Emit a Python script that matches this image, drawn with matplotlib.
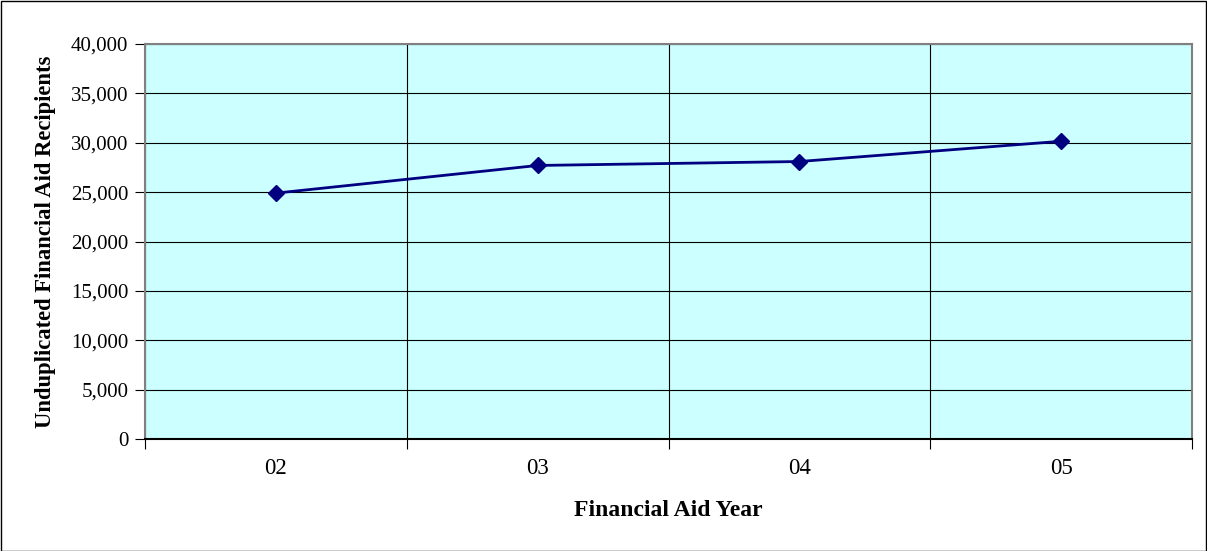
import matplotlib
matplotlib.use("Agg")
import matplotlib.pyplot as plt
from matplotlib.patches import Rectangle
from matplotlib.ticker import FuncFormatter, FixedLocator

categories = ["02", "03", "04", "05"]
recipients = [24900, 27700, 28100, 30150]

plt.rcParams['font.family'] = ['Liberation Serif', 'DejaVu Serif']

W, H = 1207, 551
fig = plt.figure(figsize=(W / 100, H / 100), dpi=100)
fig.patches.append(Rectangle((0.5 / W, 0.5 / H), 1 - 1.5 / W, 1 - 1.5 / H,
                             transform=fig.transFigure, fill=False,
                             edgecolor='black', linewidth=1))

left, right, top, bottom = 145, 1192, 44, 439
ax = fig.add_axes([left / W, 1 - bottom / H, (right - left) / W, (bottom - top) / H])
ax.set_facecolor('#CCFFFF')

x = list(range(1, len(categories) + 1))
ax.plot(x, recipients, color='#000080', linewidth=2, marker='D',
        markersize=8.5, markerfacecolor='#000080', markeredgecolor='#000080', zorder=5)

ax.set_xlim(0.5, len(categories) + 0.5)
ax.set_ylim(0, 40000)
ax.set_yticks(range(0, 40001, 5000))
ax.yaxis.set_major_formatter(FuncFormatter(lambda v, p: f"{int(v):,}"))

# category boundaries as major ticks, labels at centers as minor ticks
ax.xaxis.set_major_locator(FixedLocator([i + 0.5 for i in range(len(categories) + 1)]))
ax.xaxis.set_major_formatter(FuncFormatter(lambda v, p: ""))
ax.xaxis.set_minor_locator(FixedLocator(x))
ax.set_xticklabels(categories, minor=True)
ax.tick_params(axis='x', which='minor', length=0, pad=14, labelsize=16.5)
ax.tick_params(axis='x', which='major', length=7, direction='out', color='black')
ax.tick_params(axis='y', length=7, direction='out', color='black', labelsize=15, pad=5)

ax.grid(True, which='major', axis='both', color='black', linewidth=0.8)
ax.set_axisbelow(True)

for s in ax.spines.values():
    s.set_color('#808080')
    s.set_linewidth(1.5)
ax.spines['bottom'].set_color('black')

ax.set_xlabel('Financial Aid Year', fontsize=17, fontweight='bold')
ax.set_ylabel('Unduplicated Financial Aid Recipients', fontsize=16.3, fontweight='bold')
ax.xaxis.set_label_coords(0.5, (bottom - 511) / (bottom - top))
ax.xaxis.label.set_verticalalignment('center')
ax.yaxis.set_label_coords((46 - left) / (right - left), 0.5)
ax.yaxis.label.set_verticalalignment('center')
ax.yaxis.label.set_horizontalalignment('center')

fig.savefig('out.png', dpi=100)
